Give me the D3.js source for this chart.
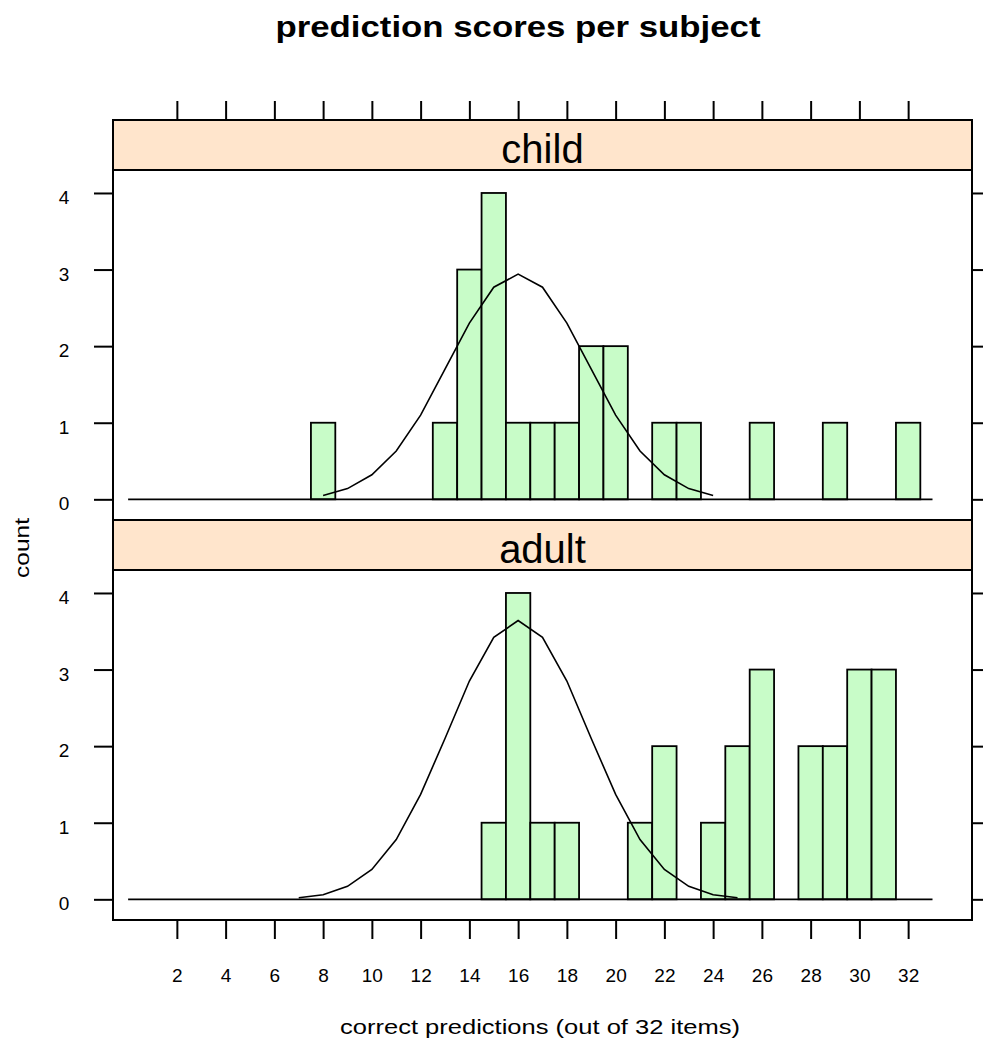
<!DOCTYPE html>
<html>
<head>
<meta charset="UTF-8">
<title>prediction scores per subject</title>
<style>
  body { margin: 0; background: #fff; }
  text { font-family: "Liberation Sans", Arial, sans-serif; fill: #000; }
</style>
</head>
<body>
<div id="chart"></div>
<script src="https://d3js.org/d3.v7.min.js"></script>
<script>
// data
var groups = ["child", "adult"];
var scores = [8, 13, 14, 15, 16, 17, 18, 19, 20, 22, 23, 26, 29, 32];
var childCounts = [1, 1, 3, 4, 1, 1, 1, 2, 2, 1, 1, 1, 1, 1];
var adultScores = [15, 16, 17, 18, 21, 22, 24, 25, 26, 28, 29, 30, 31];
var adultCounts = [1, 4, 1, 1, 1, 2, 1, 2, 3, 2, 2, 3, 3];
// chance curve, read at whole scores
var childCurveX = [8, 9, 10, 11, 12, 13, 14, 15, 16, 17, 18, 19, 20, 21, 22, 23, 24];
var childCurveY = [0.05, 0.14, 0.32, 0.63, 1.10, 1.70, 2.30, 2.77, 2.94, 2.77, 2.30, 1.70, 1.10, 0.63, 0.32, 0.14, 0.05];
var adultCurveX = [7, 8, 9, 10, 11, 12, 13, 14, 15, 16, 17, 18, 19, 20, 21, 22, 23, 24, 25];
var adultCurveY = [0.02, 0.06, 0.17, 0.39, 0.78, 1.37, 2.10, 2.85, 3.42, 3.64, 3.42, 2.85, 2.10, 1.37, 0.78, 0.39, 0.17, 0.06, 0.02];
var baseRange = [0, 33];
var xTicks = [2, 4, 6, 8, 10, 12, 14, 16, 18, 20, 22, 24, 26, 28, 30, 32];
var yTicks = [0, 1, 2, 3, 4];

var width = 983, height = 1042;
var padLeft = 113, padRight = 972, padTop = 120;
var stripH = 50, panelH = 350;

var panels = [
  { name: groups[0], bx: scores, by: childCounts, cx: childCurveX, cy: childCurveY },
  { name: groups[1], bx: adultScores, by: adultCounts, cx: adultCurveX, cy: adultCurveY }
];

var svg = d3.select("#chart").append("svg")
    .attr("width", width)
    .attr("height", height);

var x = d3.scaleLinear().domain([-0.62, 34.62]).range([padLeft, padRight]);

svg.append("text")
    .attr("x", 518).attr("y", 37)
    .attr("text-anchor", "middle")
    .attr("font-size", 30)
    .attr("font-weight", "bold")
    .attr("textLength", 485)
    .attr("lengthAdjust", "spacingAndGlyphs")
    .text("prediction scores per subject");

panels.forEach(function(p, i) {
  var sy = padTop + i * (stripH + panelH);
  var py = sy + stripH;
  var y = d3.scaleLinear().domain([-0.27, 4.3]).range([py + panelH, py]);
  var g = svg.append("g");

  // strip
  g.append("rect")
      .attr("x", padLeft).attr("y", sy)
      .attr("width", padRight - padLeft).attr("height", stripH)
      .attr("fill", "#ffe5cc")
      .attr("stroke", "#000").attr("stroke-width", 2);
  g.append("text")
      .attr("x", (padLeft + padRight) / 2).attr("y", sy + 43)
      .attr("text-anchor", "middle")
      .attr("font-size", 40)
      .attr("fill", "#222")
      .text(p.name);

  // panel box
  g.append("rect")
      .attr("x", padLeft).attr("y", py)
      .attr("width", padRight - padLeft).attr("height", panelH)
      .attr("fill", "none")
      .attr("stroke", "#000").attr("stroke-width", 2);

  // bars
  g.selectAll("rect.bar")
      .data(p.bx)
      .enter()
      .append("rect")
      .attr("class", "bar")
      .attr("x", function(d) { return x(d - 0.5); })
      .attr("y", function(d, j) { return y(p.by[j]); })
      .attr("width", function(d) { return x(d + 0.5) - x(d - 0.5); })
      .attr("height", function(d, j) { return y(0) - y(p.by[j]); })
      .attr("fill", "#c8fcc8")
      .attr("stroke", "#000")
      .attr("stroke-width", 1.8);

  // baseline
  g.append("line")
      .attr("x1", x(baseRange[0])).attr("x2", x(baseRange[1]))
      .attr("y1", y(0)).attr("y2", y(0))
      .attr("stroke", "#000").attr("stroke-width", 1.8);

  // curve
  var line = d3.line()
      .x(function(d) { return x(d); })
      .y(function(d, j) { return y(p.cy[j]); });
  g.append("path")
      .datum(p.cx)
      .attr("d", line)
      .attr("fill", "none")
      .attr("stroke", "#000")
      .attr("stroke-width", 1.6);

  // y axes
  var la = g.append("g")
      .attr("transform", "translate(" + padLeft + ",0)")
      .call(d3.axisLeft(y).tickValues(yTicks).tickSize(19).tickFormat(d3.format("d")));
  la.select(".domain").remove();
  la.selectAll("line").attr("stroke-width", 2);
  la.selectAll("text")
      .attr("x", -49)
      .attr("dy", "0.55em")
      .attr("text-anchor", "middle")
      .style("font-size", "19px")
      .style("font-family", "Liberation Sans, Arial, sans-serif");

  var ra = g.append("g")
      .attr("transform", "translate(" + padRight + ",0)")
      .call(d3.axisRight(y).tickValues(yTicks).tickSize(19).tickFormat(""));
  ra.select(".domain").remove();
  ra.selectAll("line").attr("stroke-width", 2);
});

// x axes
var ta = svg.append("g")
    .attr("transform", "translate(0," + padTop + ")")
    .call(d3.axisTop(x).tickValues(xTicks).tickSize(19).tickFormat(""));
ta.select(".domain").remove();
ta.selectAll("line").attr("stroke-width", 2);

var bottomY = padTop + 2 * (stripH + panelH);
var ba = svg.append("g")
    .attr("transform", "translate(0," + bottomY + ")")
    .call(d3.axisBottom(x).tickValues(xTicks).tickSize(19).tickPadding(30).tickFormat(d3.format("d")));
ba.select(".domain").remove();
ba.selectAll("line").attr("stroke-width", 2);
ba.selectAll("text")
    .style("font-size", "19px")
    .style("font-family", "Liberation Sans, Arial, sans-serif");

svg.append("text")
    .attr("x", 540).attr("y", 1034)
    .attr("text-anchor", "middle")
    .attr("font-size", 21)
    .attr("textLength", 400)
    .attr("lengthAdjust", "spacingAndGlyphs")
    .text("correct predictions (out of 32 items)");

svg.append("text")
    .attr("transform", "translate(29,548) rotate(-90)")
    .attr("text-anchor", "middle")
    .attr("font-size", 21)
    .attr("textLength", 60)
    .attr("lengthAdjust", "spacingAndGlyphs")
    .text("count");
</script>
</body>
</html>
